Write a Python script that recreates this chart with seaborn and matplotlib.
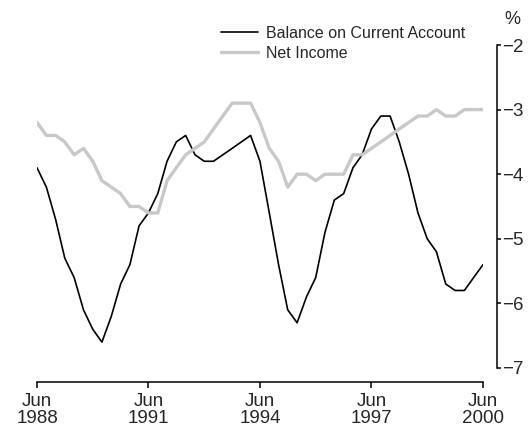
import warnings
warnings.filterwarnings("ignore")

import pandas as pd
import matplotlib
matplotlib.use("Agg")
import matplotlib.pyplot as plt
import seaborn as sns

# -------------------------------------------------
# Data (quarterly, Jun 1988 - Jun 2000, % of GDP)
# -------------------------------------------------
quarters = pd.date_range("1988-06-01", "2000-06-01", freq="3MS")

balance = [-3.9, -4.2, -4.7, -5.3, -5.6, -6.1, -6.4, -6.6, -6.2, -5.7,
           -5.4, -4.8, -4.6, -4.3, -3.8, -3.5, -3.4, -3.7, -3.8, -3.8,
           -3.7, -3.6, -3.5, -3.4, -3.8, -4.6, -5.4, -6.1, -6.3, -5.9,
           -5.6, -4.9, -4.4, -4.3, -3.9, -3.7, -3.3, -3.1, -3.1, -3.5,
           -4.0, -4.6, -5.0, -5.2, -5.7, -5.8, -5.8, -5.6, -5.4]

net_income = [-3.2, -3.4, -3.4, -3.5, -3.7, -3.6, -3.8, -4.1, -4.2, -4.3,
              -4.5, -4.5, -4.6, -4.6, -4.1, -3.9, -3.7, -3.6, -3.5, -3.3,
              -3.1, -2.9, -2.9, -2.9, -3.2, -3.6, -3.8, -4.2, -4.0, -4.0,
              -4.1, -4.0, -4.0, -4.0, -3.7, -3.7, -3.6, -3.5, -3.4, -3.3,
              -3.2, -3.1, -3.1, -3.0, -3.1, -3.1, -3.0, -3.0, -3.0]

tick_dates = pd.to_datetime(["1988-06-01", "1991-06-01", "1994-06-01",
                             "1997-06-01", "2000-06-01"])
tick_labels = ["Jun\n1988", "Jun\n1991", "Jun\n1994", "Jun\n1997", "Jun\n2000"]
y_ticks = [-7, -6, -5, -4, -3, -2]

df = pd.DataFrame({"Quarter": quarters,
                   "Balance on Current Account": balance,
                   "Net Income": net_income})

# -------------------------------------------------
# Plot Settings
# -------------------------------------------------
sns.set_style("white")
plt.rcParams["font.family"] = ["Liberation Sans", "DejaVu Sans"]

fig = plt.figure(figsize=(5.31, 4.28), dpi=100)
ax = fig.add_axes([37 / 531, 60 / 428, 446 / 531, 323 / 428])

sns.lineplot(data=df, x="Quarter", y="Balance on Current Account",
             color="black", linewidth=1.2, ax=ax,
             label="Balance on Current Account")
sns.lineplot(data=df, x="Quarter", y="Net Income",
             color="#c8c8c8", linewidth=2.4, ax=ax, label="Net Income")

ax.set_xlim(quarters[0], quarters[-1])
ax.set_ylim(-7, -2)
ax.set_xlabel("")
ax.set_ylabel("")

for side in ["left", "top"]:
    ax.spines[side].set_visible(False)
ax.spines["right"].set_position(("outward", 10))
ax.spines["bottom"].set_position(("outward", 10))
for side in ["right", "bottom"]:
    ax.spines[side].set_color("black")
    ax.spines[side].set_linewidth(1.1)

ax.yaxis.tick_right()
ax.tick_params(axis="x", direction="out", length=4.5, width=1.1,
               color="black", pad=3.5, bottom=True, labelsize=13.5)
ax.tick_params(axis="y", direction="out", length=3, width=1.1,
               color="black", pad=1, right=True, left=False, labelsize=13.5)

ax.set_xticks(tick_dates)
ax.set_xticklabels(tick_labels, fontsize=13.5, linespacing=1.03)
ax.set_yticks(y_ticks)
ax.set_yticklabels([f"\u2212{abs(v)}" for v in y_ticks], fontsize=13.5)

fig.text(512 / 531, 1 - 20 / 428, "%", fontsize=13,
         ha="center", va="center")

ax.legend(loc="upper left", bbox_to_anchor=(221 / 531, 1 - 26 / 428),
          bbox_transform=fig.transFigure, frameon=False,
          handlelength=2.3, handletextpad=0.5, labelspacing=0.3,
          fontsize=11.5, borderaxespad=0, borderpad=0)

fig.savefig("out.png", dpi=100)
